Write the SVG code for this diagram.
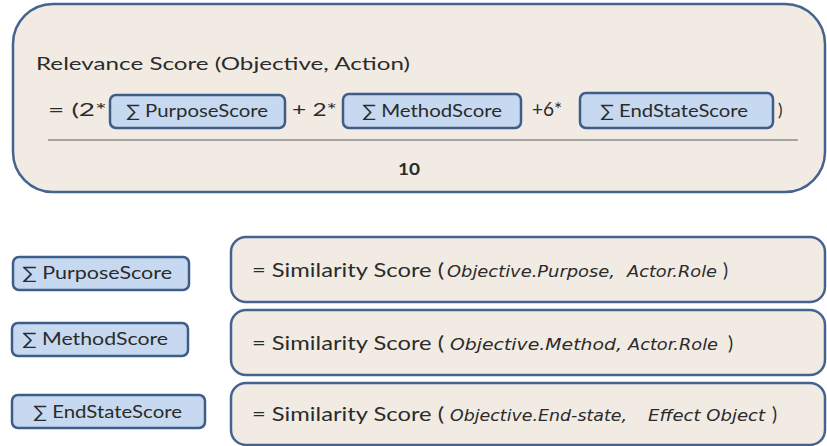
<svg xmlns="http://www.w3.org/2000/svg" width="827" height="446" viewBox="0 0 827 446">
<style>
.panel{fill:#f1ebe4;stroke:#44648f;stroke-width:2.5}
.chip{fill:#c6d9f1;stroke:#3e5d88;stroke-width:2.5}
.t{font-family:Lato,"Open Sans","Liberation Sans",sans-serif;fill:#2b2b2b}
.i{font-family:"DejaVu Sans","Liberation Sans",sans-serif;font-style:italic;fill:#2b2b2b;font-size:16.5px}
</style>
<rect width="827" height="446" fill="#ffffff"/>
<g id="formula">
<rect class="panel" x="13" y="4" width="812" height="188" rx="40"/>
<text class="t" x="36" y="70" font-size="18" textLength="374" lengthAdjust="spacingAndGlyphs">Relevance Score (Objective, Action)</text>
<text class="t" x="48" y="116" font-size="17" textLength="59" lengthAdjust="spacingAndGlyphs">= (2*</text>
<g id="f-purpose">
<rect class="chip" x="110" y="95" width="175" height="33" rx="6"/>
<text class="t" x="126" y="117" font-size="17" textLength="142" lengthAdjust="spacingAndGlyphs">∑ PurposeScore</text>
</g>
<text class="t" x="292" y="116" font-size="17" textLength="45" lengthAdjust="spacingAndGlyphs">+ 2*</text>
<g id="f-method">
<rect class="chip" x="343" y="94" width="178" height="34" rx="6"/>
<text class="t" x="362" y="117" font-size="17" textLength="140" lengthAdjust="spacingAndGlyphs">∑ MethodScore</text>
</g>
<text class="t" x="532" y="116" font-size="19">+6*</text>
<g id="f-endstate">
<rect class="chip" x="580" y="93" width="193" height="35" rx="6"/>
<text class="t" x="600" y="117" font-size="17" textLength="148" lengthAdjust="spacingAndGlyphs">∑ EndStateScore</text>
</g>
<text class="t" x="778" y="116" font-size="17">)</text>
<line x1="48" y1="140" x2="798" y2="140" stroke="#5a5a5a" stroke-width="1.2"/>
<text class="t" x="398" y="175" font-size="17" font-weight="bold" textLength="22" lengthAdjust="spacingAndGlyphs">10</text>
</g>
<g id="purpose">
<rect class="chip" x="13" y="257" width="176" height="33" rx="6"/>
<text class="t" x="22" y="279" font-size="17" textLength="150" lengthAdjust="spacingAndGlyphs">∑ PurposeScore</text>
</g>
<g id="method">
<rect class="chip" x="12" y="323" width="176" height="33" rx="6"/>
<text class="t" x="22" y="345" font-size="17" textLength="146" lengthAdjust="spacingAndGlyphs">∑ MethodScore</text>
</g>
<g id="endstate">
<rect class="chip" x="12" y="395" width="193" height="33" rx="6"/>
<text class="t" x="33" y="418" font-size="17" textLength="149" lengthAdjust="spacingAndGlyphs">∑ EndStateScore</text>
</g>
<g id="sim-purpose">
<rect class="panel" x="231" y="237" width="594" height="65" rx="15"/>
<text class="t" x="252" y="277" font-size="19" textLength="192" lengthAdjust="spacingAndGlyphs">= Similarity Score (</text>
<text class="i" x="447" y="277" textLength="168" lengthAdjust="spacingAndGlyphs">Objective.Purpose,</text>
<text class="i" x="627" y="277" textLength="90" lengthAdjust="spacingAndGlyphs">Actor.Role</text>
<text class="t" x="723" y="277" font-size="19">)</text>
</g>
<g id="sim-method">
<rect class="panel" x="231" y="310" width="594" height="65" rx="15"/>
<text class="t" x="252" y="350" font-size="19" textLength="192" lengthAdjust="spacingAndGlyphs">= Similarity Score (</text>
<text class="i" x="450" y="350" textLength="172" lengthAdjust="spacingAndGlyphs">Objective.Method,</text>
<text class="i" x="628" y="350" textLength="90" lengthAdjust="spacingAndGlyphs">Actor.Role</text>
<text class="t" x="728" y="350" font-size="19">)</text>
</g>
<g id="sim-endstate">
<rect class="panel" x="231" y="383" width="594" height="62" rx="15"/>
<text class="t" x="252" y="421" font-size="19" textLength="192" lengthAdjust="spacingAndGlyphs">= Similarity Score (</text>
<text class="i" x="450" y="421" textLength="177" lengthAdjust="spacingAndGlyphs">Objective.End-state,</text>
<text class="i" x="648" y="421" textLength="117" lengthAdjust="spacingAndGlyphs">Effect Object</text>
<text class="t" x="772" y="421" font-size="19">)</text>
</g>
<g id="connectors"></g>
</svg>
